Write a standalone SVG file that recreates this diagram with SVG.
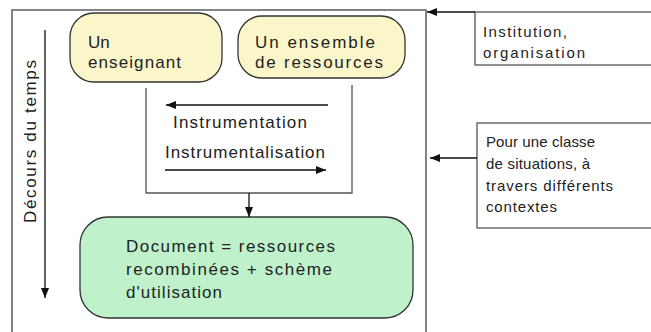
<svg xmlns="http://www.w3.org/2000/svg" width="651" height="332" viewBox="0 0 651 332">
<defs>
<marker id="ah" viewBox="0 0 10 8" refX="10" refY="4" markerWidth="10" markerHeight="8" markerUnits="userSpaceOnUse" orient="auto">
<path d="M0,0 L10,4 L0,8 Z" fill="#111"/>
</marker>
<style>
.t{font-family:"Liberation Sans",Arial,sans-serif;font-size:17px;fill:#222}
.s{font-family:"Liberation Sans",Arial,sans-serif;font-size:15px;fill:#222}
.y{fill:#fbf6c9;stroke:#333;stroke-width:1.3}
.g{fill:#bff2cb;stroke:#333;stroke-width:1.3}
.b{fill:#fff;stroke:#555;stroke-width:1.3}
.c{fill:none;stroke:#111;stroke-width:1.3}
</style>
</defs>
<rect width="651" height="332" fill="#fff"/>
<g id="frame">
<rect x="12" y="10" width="414" height="330" fill="none" stroke="#777" stroke-width="1.8"/>
</g>
<g id="time">
<text class="t" transform="translate(36,223) rotate(-90)" textLength="163" lengthAdjust="spacing">Décours du temps</text>
</g>
<g id="enseignant">
<rect class="y" x="70" y="13" width="152" height="69" rx="24"/>
<text class="t" x="88" y="48">Un</text>
<text class="t" x="88" y="68" textLength="93" lengthAdjust="spacing">enseignant</text>
</g>
<g id="ressources">
<rect class="y" x="238" y="16" width="167" height="62" rx="24"/>
<text class="t" x="255" y="48" textLength="120" lengthAdjust="spacing">Un ensemble</text>
<text class="t" x="255" y="68" textLength="128" lengthAdjust="spacing">de ressources</text>
</g>
<g id="genese">
<path d="M146,88 V193 H352 V85" fill="none" stroke="#555" stroke-width="1.3"/>
<text class="t" x="173" y="128" textLength="134" lengthAdjust="spacing">Instrumentation</text>
<text class="t" x="165" y="158" textLength="160" lengthAdjust="spacing">Instrumentalisation</text>
</g>
<g id="document">
<rect class="g" x="80" y="217" width="333" height="101" rx="28"/>
<text class="t" x="126" y="252" textLength="209" lengthAdjust="spacing">Document = ressources</text>
<text class="t" x="126" y="275" textLength="206" lengthAdjust="spacing">recombinées + schème</text>
<text class="t" x="126" y="298" textLength="96" lengthAdjust="spacing">d'utilisation</text>
</g>
<g id="institution">
<rect class="b" x="475" y="12" width="190" height="53"/>
<text class="s" x="483" y="37" textLength="84" lengthAdjust="spacing">Institution,</text>
<text class="s" x="483" y="58" textLength="102" lengthAdjust="spacing">organisation</text>
</g>
<g id="situations">
<rect class="b" x="477" y="123" width="190" height="105"/>
<text class="s" x="486" y="147" textLength="109" lengthAdjust="spacing">Pour une classe</text>
<text class="s" x="486" y="169" textLength="104" lengthAdjust="spacing">de situations, à</text>
<text class="s" x="486" y="191" textLength="127" lengthAdjust="spacing">travers différents</text>
<text class="s" x="486" y="212" textLength="71" lengthAdjust="spacing">contextes</text>
</g>
<g id="connectors">
<line class="c" x1="45" y1="30" x2="45" y2="298" marker-end="url(#ah)"/>
<line class="c" x1="328" y1="105" x2="166" y2="105" marker-end="url(#ah)"/>
<line class="c" x1="165" y1="170" x2="326" y2="170" marker-end="url(#ah)"/>
<line class="c" x1="249" y1="193" x2="249" y2="217" marker-end="url(#ah)"/>
<line class="c" x1="475" y1="12" x2="427" y2="12" marker-end="url(#ah)"/>
<line class="c" x1="477" y1="158" x2="430" y2="158" marker-end="url(#ah)"/>
</g>
</svg>
